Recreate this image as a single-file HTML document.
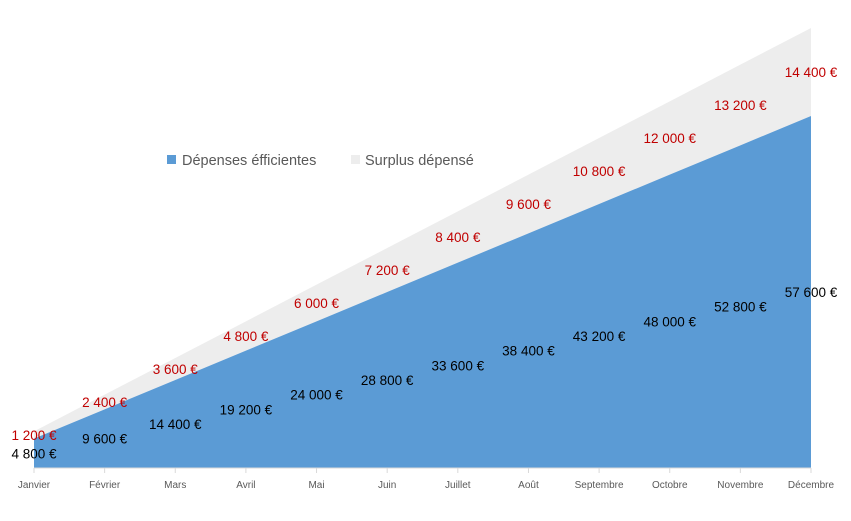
<!DOCTYPE html>
<html><head><meta charset="utf-8"><style>
body{margin:0;background:#fff;}
svg{display:block;font-family:"Liberation Sans",Calibri,sans-serif;}
</style></head><body>
<svg id="c" width="851" height="521" viewBox="0 0 851 521">
<g id="legend">
<rect x="167" y="155" width="9" height="9" fill="#5b9bd5"/>
<text x="182" y="165" font-size="14.5" fill="#595959">Dépenses éfficientes</text>
<rect x="351" y="155" width="9" height="9" fill="#ededed"/>
<text x="365" y="165" font-size="14.5" fill="#595959">Surplus dépensé</text>
</g>
</svg>
<script>
const months=["Janvier","Février","Mars","Avril","Mai","Juin","Juillet","Août","Septembre","Octobre","Novembre","Décembre"];
const efficient=[4800,9600,14400,19200,24000,28800,33600,38400,43200,48000,52800,57600];
const surplus=[1200,2400,3600,4800,6000,7200,8400,9600,10800,12000,13200,14400];
const svg=document.getElementById('c');
const NS='http://www.w3.org/2000/svg';
const x0=34,x1=811,base=468,scale=352/57600;
const X=i=>x0+i*(x1-x0)/(months.length-1);
const Y=v=>base-v*scale;
const fmt=v=>String(v).replace(/\B(?=(\d{3})+(?!\d))/g,' ')+' €';
function mk(t,a){const e=document.createElementNS(NS,t);for(const k in a)e.setAttribute(k,a[k]);svg.insertBefore(e,svg.lastElementChild);return e;}
const topPts=[],basePts=[];
months.forEach((m,i)=>{basePts.push(X(i)+','+Y(efficient[i]));topPts.push(X(i)+','+Y(efficient[i]+surplus[i]));});
const gA=mk('polygon',{points:topPts.join(' ')+' '+basePts.slice().reverse().join(' '),fill:'#ededed'});


const bA=mk('polygon',{points:basePts.join(' ')+' '+X(11)+','+base+' '+X(0)+','+base,fill:'#5b9bd5'});


const ax=mk('line',{x1:x0,x2:x1,y1:base,y2:base,stroke:'#d9d9d9','stroke-width':1});


months.forEach((m,i)=>{
 const tk=mk('line',{x1:X(i),x2:X(i),y1:base,y2:base+5,stroke:'#d9d9d9'});
 
 
 const t=mk('text',{x:X(i),y:base+20,'font-size':'10','text-anchor':'middle',fill:'#595959'});
 t.textContent=m;
 
 
 const e=mk('text',{x:X(i),y:Y(efficient[i]/2)+5,'font-size':'13.5','text-anchor':'middle',fill:'#000'});
 e.textContent=fmt(efficient[i]);
 
 
 const s=mk('text',{x:X(i),y:Y(efficient[i]+surplus[i]/2)+5,'font-size':'13.5','text-anchor':'middle',fill:'#c00000'});
 s.textContent=fmt(surplus[i]);
 
 
});
</script>
</body></html>
